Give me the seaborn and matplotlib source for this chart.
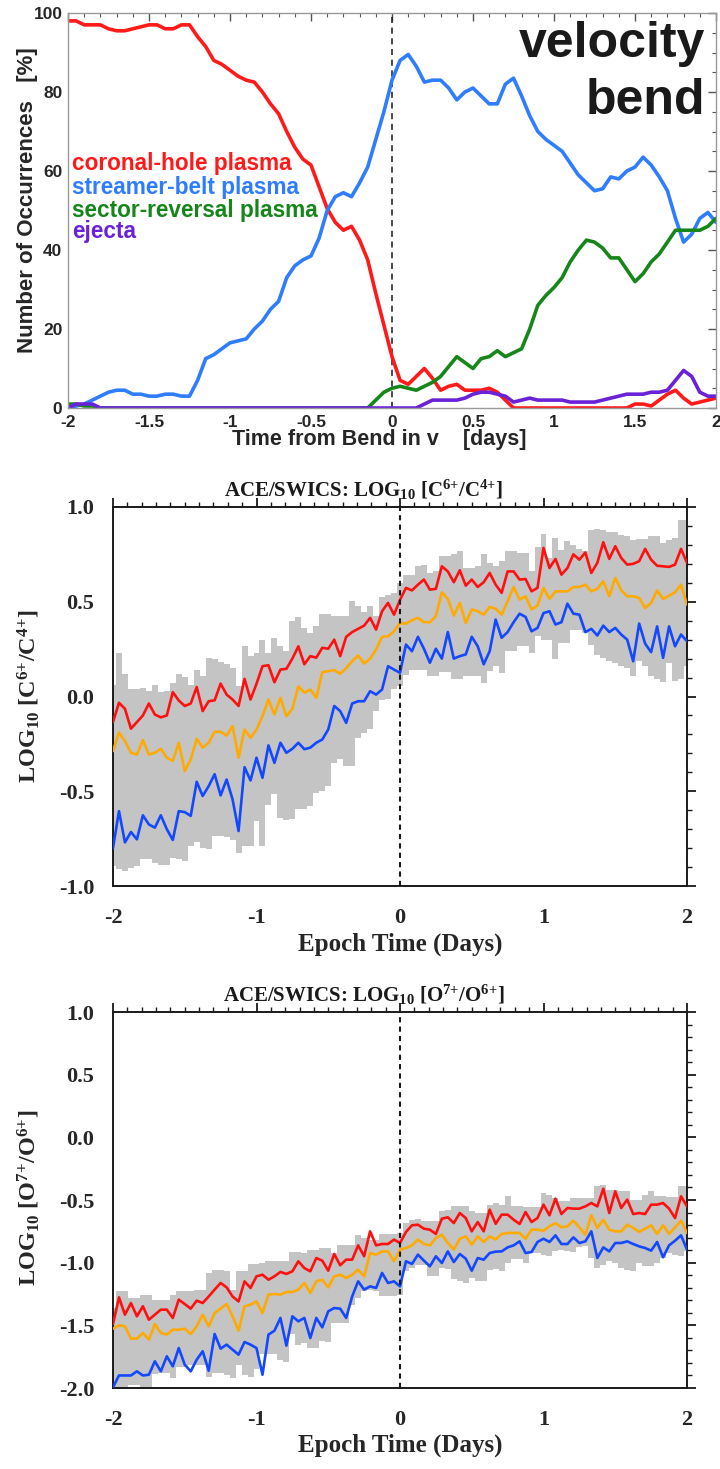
import numpy as np
import pandas as pd
import matplotlib
matplotlib.use("Agg")
import matplotlib.pyplot as plt
from matplotlib.ticker import MultipleLocator, FuncFormatter
import seaborn as sns

sns.set_theme(style="white")
plt.rcParams["axes.unicode_minus"] = False
plt.rcParams["mathtext.fontset"] = "custom"
plt.rcParams["mathtext.rm"] = "Liberation Serif:bold"
plt.rcParams["mathtext.bf"] = "Liberation Serif:bold"
plt.rcParams["mathtext.it"] = "Liberation Serif:bold"

# ---------------- top panel: occurrence fractions (0.05-day grid) ----------------
t_top = np.round(np.linspace(-2, 2, 81), 3)

coronal_hole = [98, 98, 97, 97, 97, 96, 95.5, 95.5, 96, 96.5,
                97, 97, 96, 96, 97, 97, 94, 91.5, 88, 87,
                85.5, 84, 83, 82.5, 80, 77, 74.5, 70, 66, 63,
                61.5, 56, 50.5, 47, 45, 46, 42.5, 37.5, 29, 21,
                13, 7, 6, 8, 10, 7.5, 4.5, 5.5, 6, 4.5,
                4.5, 4.5, 5, 4, 2, 0, 0, 0, 0, 0,
                0, 0, 0, 0, 0, 0, 0, 0, 0, 0,
                1, 1, 0.5, 2, 3.5, 4.5, 2.5, 1, 1.5, 2, 2.5]
streamer_belt = [0, 0.5, 1, 2, 3, 4, 4.5, 4.5, 3.5, 3.5,
                 3, 3, 3.5, 3.5, 3, 3, 7, 12.5, 13.5, 15,
                 16.5, 17, 17.5, 20, 22, 25, 27, 33, 36, 37.5,
                 38.5, 43, 50, 53.5, 54.5, 53.5, 57, 61, 68, 75,
                 83, 88, 89.5, 86.5, 82.5, 83, 83, 81, 78, 80,
                 81, 79, 77, 77, 82, 83.5, 79, 74, 70, 68,
                 66.5, 65, 62, 59, 57, 55, 55.5, 58.5, 58, 60,
                 61, 63.5, 61.5, 58.5, 55, 48, 42, 44, 48, 49.5, 47]
sector_reversal = [1, 1, 0.5, 0.5, 0, 0, 0, 0, 0, 0,
                   0, 0, 0, 0, 0, 0, 0, 0, 0, 0,
                   0, 0, 0, 0, 0, 0, 0, 0, 0, 0,
                   0, 0, 0, 0, 0, 0, 0, 0, 2, 4,
                   5, 5.5, 5, 4.5, 5.5, 6.5, 8, 10.5, 13, 11.5,
                   10, 12.5, 13, 14.5, 13, 14, 15, 20, 26, 28.5,
                   30.5, 33, 37, 40, 42.5, 42, 40.5, 38, 38, 35,
                   32, 34, 37, 39, 42, 45, 45, 45, 45, 46, 48]
ejecta = [0, 1, 1, 1, 0, 0, 0, 0, 0, 0,
          0, 0, 0, 0, 0, 0, 0, 0, 0, 0,
          0, 0, 0, 0, 0, 0, 0, 0, 0, 0,
          0, 0, 0, 0, 0, 0, 0, 0, 0, 0,
          0, 0, 0, 0, 1, 2, 2, 2, 2, 2.5,
          3.5, 4, 4, 3.5, 3, 1.5, 2, 2.5, 2, 2,
          2, 2, 1.5, 1.5, 1.5, 1.5, 2, 2.5, 3, 3.5,
          3.5, 3.5, 4, 4, 4.5, 7, 9.5, 8, 4, 3, 3]
top_names = ["coronal-hole plasma", "streamer-belt plasma",
             "sector-reversal plasma", "ejecta"]
top_colors = ["#ff1a1a", "#2f7dff", "#17861a", "#6a22d6"]

# ---------------- hourly epochs for the SWICS panels ----------------
t_hr = np.round(np.linspace(-2, 2, 97), 4)

c_red = [-0.135, -0.033, -0.065, -0.17, -0.135, -0.10, -0.037, -0.095, -0.11, -0.10, 0.023,
         -0.021, -0.05, -0.037, 0.05, -0.077, -0.025, -0.02, 0.068, 0.01, -0.016, -0.05,
         0.093, -0.016, 0.067, 0.16, 0.165, 0.075, 0.142, 0.146, 0.2, 0.265, 0.17,
         0.213, 0.205, 0.257, 0.252, 0.30, 0.213, 0.315, 0.34, 0.357, 0.374, 0.415,
         0.353, 0.45, 0.494, 0.432, 0.51, 0.573, 0.56, 0.59, 0.617, 0.564, 0.568,
         0.687, 0.66, 0.603, 0.666, 0.585, 0.617, 0.578, 0.603, 0.652, 0.59,
         0.547, 0.66, 0.66, 0.617, 0.62, 0.555, 0.573, 0.784, 0.678, 0.726, 0.643,
         0.678, 0.75, 0.722, 0.76, 0.652, 0.705, 0.814, 0.726, 0.793, 0.731, 0.696,
         0.7, 0.714, 0.779, 0.722, 0.69, 0.687, 0.684, 0.696, 0.779, 0.705]
c_orange = [-0.288, -0.19, -0.235, -0.297, -0.306, -0.23, -0.306, -0.297, -0.276, -0.323, -0.34,
            -0.244, -0.394, -0.332, -0.223, -0.27, -0.244, -0.186, -0.186, -0.206, -0.156,
            -0.323, -0.174, -0.218, -0.174, -0.104, -0.016, -0.095, -0.007, -0.104, -0.065,
            0.054, 0.02,
            0.037, -0.007, 0.128, 0.134, 0.139, 0.12, 0.15, 0.186, 0.216, 0.174, 0.2,
            0.248, 0.315, 0.318, 0.344, 0.388, 0.385, 0.402, 0.415, 0.392, 0.392, 0.424,
            0.55, 0.515, 0.427, 0.494, 0.388, 0.459, 0.45, 0.432, 0.473, 0.463,
            0.432, 0.503, 0.578, 0.511, 0.529, 0.459, 0.48, 0.573, 0.515, 0.555, 0.555,
            0.555, 0.578, 0.578, 0.59, 0.555, 0.568, 0.608, 0.529, 0.626, 0.56, 0.529,
            0.529, 0.52, 0.467, 0.494, 0.56, 0.515, 0.532, 0.55, 0.59, 0.485]
c_blue = [-0.80, -0.605, -0.77, -0.715, -0.754, -0.627, -0.675, -0.692, -0.627, -0.70, -0.757,
          -0.605, -0.61, -0.63, -0.45, -0.525, -0.473, -0.41, -0.522, -0.438, -0.543, -0.71,
          -0.373, -0.443, -0.323, -0.429, -0.258, -0.35, -0.244, -0.297, -0.276, -0.244, -0.278,
          -0.27, -0.244, -0.227, -0.174, -0.05, -0.077, -0.139, -0.037, -0.025, -0.025, 0.028,
          0.01, 0.037, 0.16, 0.142, 0.125, 0.274, 0.239, 0.315, 0.252, 0.178, 0.252,
          0.2, 0.34, 0.2, 0.213, 0.222, 0.315, 0.265, 0.17, 0.239, 0.406,
          0.31, 0.34, 0.392, 0.437, 0.42, 0.344, 0.362, 0.44, 0.45, 0.38, 0.392,
          0.49, 0.437, 0.432, 0.34, 0.357, 0.322, 0.374, 0.34, 0.362, 0.327, 0.3,
          0.186, 0.385, 0.279, 0.234, 0.37, 0.204, 0.37, 0.265, 0.327, 0.292]
c_upper = [0.063, 0.227, 0.12, 0.04, 0.037, 0.045, 0.028, 0.063, 0.023, 0.028, 0.072,
           0.12, 0.104, 0.063, 0.142, 0.107, 0.204, 0.2, 0.18, 0.17, 0.15, 0.054,
           0.265, 0.216, 0.227, 0.297, 0.227, 0.31, 0.265, 0.24, 0.397, 0.42, 0.362,
           0.336, 0.37, 0.437, 0.437, 0.424, 0.424, 0.424, 0.503, 0.476, 0.445, 0.48,
           0.424, 0.525, 0.538, 0.547, 0.6, 0.643, 0.643, 0.687, 0.696, 0.652, 0.66,
           0.74, 0.74, 0.75, 0.766, 0.68, 0.68, 0.687, 0.75, 0.705, 0.69,
           0.714, 0.766, 0.766, 0.757, 0.757, 0.66, 0.79, 0.86, 0.73, 0.837, 0.775,
           0.82, 0.8, 0.78, 0.766, 0.88, 0.884, 0.88, 0.87, 0.87, 0.854, 0.845,
           0.824, 0.83, 0.83, 0.845, 0.845, 0.81, 0.828, 0.837, 0.93, 0.933]
c_lower = [-0.895, -0.912, -0.921, -0.903, -0.895, -0.86, -0.86, -0.877, -0.89, -0.89, -0.85,
           -0.86, -0.868, -0.79, -0.77, -0.798, -0.807, -0.736, -0.736, -0.74, -0.757, -0.825,
           -0.79, -0.79, -0.657, -0.79, -0.57, -0.517, -0.64, -0.65, -0.646, -0.596, -0.596,
           -0.578, -0.508, -0.5, -0.473, -0.35, -0.332, -0.367, -0.367, -0.218, -0.19, -0.174,
           -0.077, -0.016, -0.012, 0.04, 0.054, 0.116, 0.142, 0.142, 0.142, 0.11, 0.11,
           0.128, 0.128, 0.09, 0.09, 0.107, 0.107, 0.107, 0.072, 0.134, 0.16,
           0.125, 0.239, 0.239, 0.265, 0.265, 0.23, 0.318, 0.3, 0.3, 0.2, 0.283,
           0.283, 0.353, 0.353, 0.336, 0.274, 0.221, 0.204, 0.186, 0.178, 0.163, 0.15,
           0.11, 0.186, 0.16, 0.107, 0.09, 0.075, 0.178, 0.08, 0.09, 0.16]

o_red = [-1.49, -1.277, -1.415, -1.322, -1.428, -1.348, -1.455, -1.415, -1.375, -1.375, -1.441,
         -1.295, -1.33, -1.367, -1.303, -1.322, -1.27, -1.215, -1.162, -1.197, -1.27, -1.309,
         -1.149, -1.202, -1.109, -1.096, -1.136, -1.109, -1.074, -1.09, -1.069, -0.989, -1.043,
         -1.069, -0.963, -0.984, -1.064, -0.931, -1.021, -0.976, -0.976, -0.862, -0.949, -0.75,
         -0.862, -0.851, -0.851, -0.816, -0.843, -0.755, -0.702, -0.697, -0.729, -0.737, -0.771,
         -0.649, -0.638, -0.684, -0.604, -0.644, -0.75, -0.676, -0.75, -0.577, -0.69,
         -0.617, -0.617, -0.657, -0.691, -0.596, -0.676, -0.644, -0.537, -0.622, -0.489, -0.612,
         -0.564, -0.569, -0.569, -0.551, -0.524, -0.551, -0.41, -0.604, -0.431, -0.564, -0.497,
         -0.612, -0.604, -0.612, -0.537, -0.537, -0.524, -0.569, -0.644, -0.471, -0.551]
o_orange = [-1.527, -1.5, -1.508, -1.606, -1.606, -1.561, -1.614, -1.49, -1.561, -1.574, -1.535,
            -1.535, -1.527, -1.569, -1.508, -1.415, -1.508, -1.402, -1.367, -1.33, -1.428,
            -1.543, -1.348, -1.335, -1.309, -1.402, -1.255, -1.25, -1.255, -1.234, -1.234,
            -1.215, -1.162,
            -1.242, -1.149, -1.136, -1.197, -1.109, -1.096, -1.122, -1.096, -1.056, -1.109,
            -0.923, -0.936, -0.91, -0.91, -0.989, -0.896, -0.883, -0.862, -0.816, -0.851,
            -0.862, -0.803, -0.777, -0.843, -0.896, -0.809, -0.79, -0.856, -0.79, -0.835,
            -0.79, -0.815,
            -0.771, -0.763, -0.763, -0.763, -0.809, -0.737, -0.737, -0.745, -0.71, -0.684,
            -0.718, -0.71, -0.665, -0.718, -0.777, -0.622, -0.723, -0.657, -0.737, -0.75,
            -0.75, -0.697, -0.723, -0.755, -0.729, -0.702, -0.771, -0.702, -0.771, -0.718,
            -0.665, -0.763]
o_blue = [-1.995, -1.9, -1.9, -1.9, -1.867, -1.9, -1.894, -1.787, -1.867, -1.747, -1.827,
          -1.681, -1.814, -1.867, -1.774, -1.707, -1.862, -1.569, -1.686, -1.654, -1.694,
          -1.734, -1.633, -1.654, -1.681, -1.894, -1.574, -1.543, -1.441, -1.662, -1.428,
          -1.468, -1.441,
          -1.601, -1.441, -1.516, -1.388, -1.362, -1.367, -1.441, -1.269, -1.149, -1.215,
          -1.189, -1.202, -1.082, -1.162, -1.149, -1.189, -0.989, -1.01, -0.936, -0.984,
          -1.029, -0.949, -1.003, -0.91, -0.995, -0.931, -0.968, -1.064, -0.963, -0.976,
          -0.923, -0.912,
          -0.91, -0.878, -0.862, -0.83, -0.923, -0.915, -0.835, -0.809, -0.835, -0.782,
          -0.851, -0.851, -0.798, -0.843, -0.83, -0.75, -0.963, -0.878, -0.91, -0.843,
          -0.843, -0.83, -0.851, -0.87, -0.883, -0.904, -0.835, -0.957, -0.862, -0.825,
          -0.782, -0.896]
o_upper = [-1.362, -1.223, -1.223, -1.282, -1.282, -1.255, -1.255, -1.295, -1.295, -1.295, -1.255,
           -1.223, -1.223, -1.223, -1.215, -1.215, -1.082, -1.056, -1.056, -1.07, -1.215,
           -1.07, -1.07, -1.01, -1.01, -1.003, -0.99, -0.99, -0.99, -0.99, -0.915, -0.915, -0.92,
           -0.896, -0.896, -0.883, -0.883, -0.923, -0.862, -0.862, -0.862, -0.777, -0.803,
           -0.816, -0.816, -0.771, -0.771, -0.771, -0.763, -0.684, -0.657, -0.649, -0.665,
           -0.665, -0.665, -0.59, -0.577, -0.551, -0.545, -0.545, -0.59, -0.604, -0.604,
           -0.537, -0.525,
           -0.537, -0.471, -0.551, -0.551, -0.559, -0.559, -0.559, -0.444, -0.463, -0.484,
           -0.511, -0.505, -0.484, -0.484, -0.484, -0.484, -0.391, -0.383, -0.418, -0.418,
           -0.431, -0.431, -0.497, -0.497, -0.457, -0.426, -0.471, -0.471, -0.479, -0.479,
           -0.391, -0.391]
o_lower = [-2.05, -2.05, -2.02, -1.98, -1.98, -2.0, -2.0, -1.89, -1.88, -1.88, -1.92,
           -1.83, -1.83, -1.82, -1.82, -1.82, -1.91, -1.88, -1.88, -1.9, -1.92, -1.82,
           -1.9, -1.91, -1.85, -1.73, -1.73, -1.73, -1.78, -1.79, -1.57, -1.66, -1.64,
           -1.681, -1.681, -1.628, -1.633, -1.481, -1.481, -1.481, -1.335, -1.282, -1.229,
           -1.215, -1.229, -1.269, -1.269, -1.269, -1.255, -1.069, -1.043, -1.016, -1.016,
           -1.109, -1.109, -1.043, -1.048, -1.128, -1.149, -1.162, -1.122, -1.149, -1.149,
           -1.056, -1.05,
           -1.069, -1.003, -0.968, -0.968, -1.003, -0.923, -0.923, -0.936, -0.949, -0.91,
           -0.896, -0.91, -0.915, -0.878, -0.87, -0.963, -1.043, -1.016, -0.989, -1.003,
           -1.043, -1.056, -1.069, -1.003, -1.03, -1.03, -1.003, -0.963, -0.923, -0.936,
           -0.949, -0.91]

ratio_colors = ["#ff1010", "#ffaa00", "#1448ff"]
band_color = "#c4c4c4"

SANS = ["Liberation Sans", "DejaVu Sans"]
SERIF = ["Liberation Serif", "DejaVu Serif"]

fig = plt.figure(figsize=(7.2, 14.69), dpi=100)
W, H = 720.0, 1469.0


def box(l, t, r, b):
    return [l / W, 1 - b / H, (r - l) / W, (b - t) / H]


def gfmt(v, pos):
    return "%g" % v


# ================= top panel =================
ax0 = fig.add_axes(box(68, 13, 716, 408))
df_top = pd.DataFrame({"t": t_top, top_names[0]: coronal_hole, top_names[1]: streamer_belt,
                       top_names[2]: sector_reversal, top_names[3]: ejecta})
for name, col in zip(top_names, top_colors):
    sns.lineplot(data=df_top, x="t", y=name, color=col, lw=2.6, ax=ax0,
                 estimator=None, sort=False, legend=False, solid_joinstyle="round")
ax0.axvline(0, color="k", lw=1.1, ls=(0, (4, 3)), zorder=1)
ax0.set_xlim(-2, 2)
ax0.set_ylim(0, 100)
ax0.xaxis.set_major_locator(MultipleLocator(0.5))
ax0.xaxis.set_minor_locator(MultipleLocator(0.1))
ax0.yaxis.set_major_locator(MultipleLocator(20))
ax0.yaxis.set_minor_locator(MultipleLocator(5))
ax0.xaxis.set_major_formatter(FuncFormatter(gfmt))
ax0.yaxis.set_major_formatter(FuncFormatter(gfmt))
ax0.tick_params(which="both", direction="in", top=True, right=True, color="#555555")
ax0.tick_params(which="major", length=6, width=1.0, labelsize=12.5)
ax0.tick_params(axis="x", which="major", pad=5)
ax0.tick_params(axis="y", which="major", pad=4)
ax0.tick_params(which="minor", length=3, width=0.8)
for lab in ax0.get_xticklabels() + ax0.get_yticklabels():
    lab.set_family(SANS)
    lab.set_fontweight("bold")
for sp in ax0.spines.values():
    sp.set_color("#999999")
    sp.set_linewidth(1.0)
ax0.set_xlabel("Time from Bend in v    [days]", family=SANS, fontweight="bold", fontsize=15.5)
ax0.set_ylabel("Number of Occurrences   [%]", family=SANS, fontweight="bold", fontsize=16)
ax0.xaxis.set_label_coords(0.481, -0.08)
ax0.xaxis.label.set_va("center")
ax0.yaxis.set_label_coords(-0.063, 0.527)
ax0.yaxis.label.set_va("center")
for name, col, yy in zip(top_names, top_colors, [0.618, 0.559, 0.501, 0.446]):
    ax0.text(0.006, yy, name, transform=ax0.transAxes, color=col, family=SANS,
             fontweight="bold", fontsize=16.3, ha="left", va="center")
ax0.text(0.983, 0.889, "velocity", transform=ax0.transAxes, family=SANS, fontweight="bold",
         fontsize=36, ha="right", va="baseline", color="k")
ax0.text(0.983, 0.744, "bend", transform=ax0.transAxes, family=SANS, fontweight="bold",
         fontsize=36, ha="right", va="baseline", color="k")


# ================= ratio panels =================
def ratio_panel(rect, red, orange, blue, upper, lower, ylim, title, ylabel, ylab_y):
    ax = fig.add_axes(rect)
    ax.fill_between(t_hr, lower, upper, step="mid", color=band_color, lw=0, zorder=1)
    df = pd.DataFrame({"t": t_hr, "r": red, "o": orange, "b": blue})
    for key, col in zip(["r", "o", "b"], ratio_colors):
        sns.lineplot(data=df, x="t", y=key, color=col, lw=1.9, ax=ax, estimator=None,
                     sort=False, legend=False, zorder=3)
    ax.axvline(0, color="k", lw=1.5, ls=(0, (2.5, 2)), zorder=4)
    ax.set_xlim(-2, 2)
    ax.set_ylim(*ylim)
    ax.xaxis.set_major_locator(MultipleLocator(1))
    ax.xaxis.set_minor_locator(MultipleLocator(0.1))
    ax.yaxis.set_major_locator(MultipleLocator(0.5))
    ax.yaxis.set_minor_locator(MultipleLocator(0.1))
    ax.xaxis.set_major_formatter(FuncFormatter(lambda v, p: "%d" % round(v)))
    ax.yaxis.set_major_formatter(FuncFormatter(lambda v, p: "%.1f" % v))
    ax.tick_params(which="both", direction="out", top=True, right=True, color="k")
    ax.tick_params(which="major", length=6.5, width=1.3, labelsize=16)
    ax.tick_params(axis="x", which="major", pad=9)
    ax.tick_params(axis="y", which="major", pad=7)
    ax.tick_params(which="minor", length=3.5, width=1.0)
    for lab in ax.get_xticklabels() + ax.get_yticklabels():
        lab.set_family(SERIF)
        lab.set_fontweight("bold")
    for sp in ax.spines.values():
        sp.set_color("k")
        sp.set_linewidth(1.4)
    ax.text(0.437, 1.045, title, transform=ax.transAxes, ha="center", va="center",
            family=SERIF, fontweight="bold", fontsize=15, color="k")
    ax.set_xlabel("Epoch Time (Days)", family=SERIF, fontweight="bold", fontsize=18)
    ax.set_ylabel(ylabel, family=SERIF, fontweight="bold", fontsize=17.5)
    ax.xaxis.set_label_coords(0.5, -0.153)
    ax.xaxis.label.set_va("center")
    ax.yaxis.set_label_coords(-0.146, ylab_y)
    ax.yaxis.label.set_va("center")
    return ax


ratio_panel(box(113, 507, 687, 886), c_red, c_orange, c_blue, c_upper, c_lower, (-1.0, 1.0),
            r"ACE/SWICS: LOG$_{10}$ [C$^{6{+}}$/C$^{4{+}}$]",
            r"LOG$_{10}$ [C$^{6{+}}$/C$^{4{+}}$]", 0.5)
ratio_panel(box(113, 1012, 687, 1388), o_red, o_orange, o_blue, o_upper, o_lower, (-2.0, 1.0),
            r"ACE/SWICS: LOG$_{10}$ [O$^{7{+}}$/O$^{6{+}}$]",
            r"LOG$_{10}$ [O$^{7{+}}$/O$^{6{+}}$]", 0.505)

fig.savefig("out.png", dpi=100)
